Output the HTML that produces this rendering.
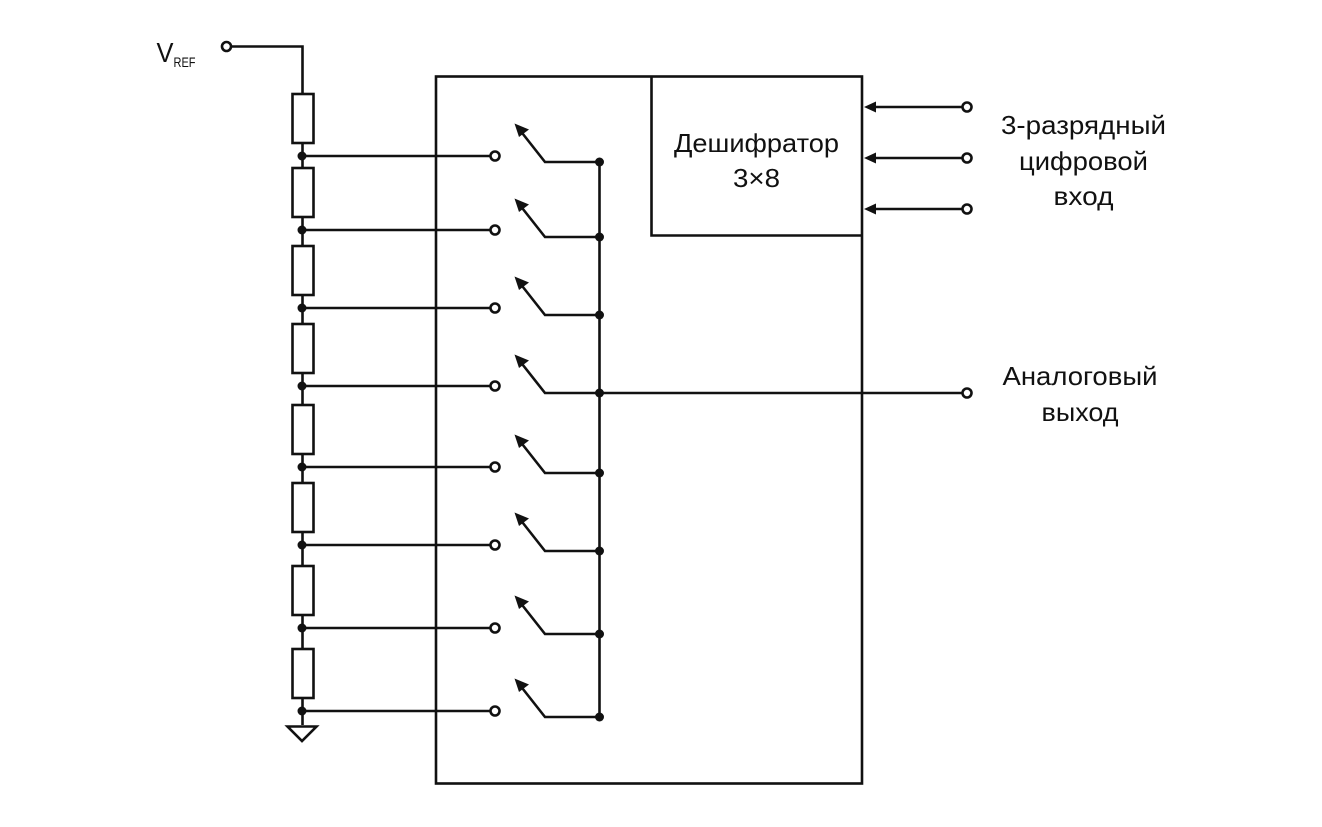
<!DOCTYPE html>
<html><head><meta charset="utf-8"><style>
html,body{margin:0;padding:0;background:#fff}
svg{display:block}
text{font-family:"Liberation Sans",sans-serif;fill:#111;text-anchor:middle}
.t{font-size:26px}
</style></head><body>
<svg width="1322" height="827" viewBox="0 0 1322 827" xmlns="http://www.w3.org/2000/svg">
<g fill="none" stroke="#111" stroke-width="2.6">
<rect x="436" y="76.500" width="426" height="707"/>
<path d="M651.500 76.500V235.500H862"/>
<path d="M231 46.500H302.500V725"/>
<path d="M599.500 162V717"/>
<path d="M599 393H962"/>
<g fill="#fff">
<rect x="292.500" y="94" width="21" height="49"/>
<rect x="292.500" y="168" width="21" height="49"/>
<rect x="292.500" y="246" width="21" height="49"/>
<rect x="292.500" y="324" width="21" height="49"/>
<rect x="292.500" y="405" width="21" height="49"/>
<rect x="292.500" y="483" width="21" height="49"/>
<rect x="292.500" y="566" width="21" height="49"/>
<rect x="292.500" y="649" width="21" height="49"/>
<path d="M287.500 726.500H316.500L302 741Z"/>
</g>
<path d="M302 156H490M302 230H490M302 308H490M302 386H490M302 467H490M302 545H490M302 628H490M302 711H490"/>
<path d="M599 162H545L519 129"/>
<path d="M599 237H545L519 204"/>
<path d="M599 315H545L519 282"/>
<path d="M599 393H545L519 360"/>
<path d="M599 473H545L519 440"/>
<path d="M599 551H545L519 518"/>
<path d="M599 634H545L519 601"/>
<path d="M599 717H545L519 684"/>
<path d="M870 107H962M870 158H962M870 209H962"/>
<g fill="#fff">
<circle cx="226.500" cy="46.500" r="4.500"/>
<circle cx="495" cy="156" r="4.500"/><circle cx="495" cy="230" r="4.500"/>
<circle cx="495" cy="308" r="4.500"/><circle cx="495" cy="386" r="4.500"/>
<circle cx="495" cy="467" r="4.500"/><circle cx="495" cy="545" r="4.500"/>
<circle cx="495" cy="628" r="4.500"/><circle cx="495" cy="711" r="4.500"/>
<circle cx="967" cy="107" r="4.500"/><circle cx="967" cy="158" r="4.500"/>
<circle cx="967" cy="209" r="4.500"/><circle cx="967" cy="393" r="4.500"/>
</g>
</g>
<g fill="#111">
<circle cx="302" cy="156" r="4.500"/><circle cx="302" cy="230" r="4.500"/>
<circle cx="302" cy="308" r="4.500"/><circle cx="302" cy="386" r="4.500"/>
<circle cx="302" cy="467" r="4.500"/><circle cx="302" cy="545" r="4.500"/>
<circle cx="302" cy="628" r="4.500"/><circle cx="302" cy="711" r="4.500"/>
<circle cx="599.500" cy="162" r="4.500"/><circle cx="599.500" cy="237" r="4.500"/>
<circle cx="599.500" cy="315" r="4.500"/><circle cx="599.500" cy="393" r="4.500"/>
<circle cx="599.500" cy="473" r="4.500"/><circle cx="599.500" cy="551" r="4.500"/>
<circle cx="599.500" cy="634" r="4.500"/><circle cx="599.500" cy="717" r="4.500"/>
<path d="M514.500 123.500L529 129.500L519 137Z"/>
<path d="M514.500 198.500L529 204.500L519 212Z"/>
<path d="M514.500 276.500L529 282.500L519 290Z"/>
<path d="M514.500 354.500L529 360.500L519 368Z"/>
<path d="M514.500 434.500L529 440.500L519 448Z"/>
<path d="M514.500 512.500L529 518.500L519 526Z"/>
<path d="M514.500 595.500L529 601.500L519 609Z"/>
<path d="M514.500 678.500L529 684.500L519 692Z"/>
<path d="M864 107L876 101.500V112.500Z"/>
<path d="M864 158L876 152.500V163.500Z"/>
<path d="M864 209L876 203.500V214.500Z"/>
</g>
<text x="165" y="62" style="font-size:28px" textLength="17" lengthAdjust="spacingAndGlyphs">V</text>
<text x="184.500" y="67" style="font-size:14px" textLength="22" lengthAdjust="spacingAndGlyphs">REF</text>
<text class="t" x="756.500" y="152" textLength="165" lengthAdjust="spacingAndGlyphs">Дешифратор</text>
<text class="t" x="756.500" y="187" textLength="47" lengthAdjust="spacingAndGlyphs">3×8</text>
<text class="t" x="1083.500" y="134" textLength="165" lengthAdjust="spacingAndGlyphs">3-разрядный</text>
<text class="t" x="1083.500" y="170" textLength="129" lengthAdjust="spacingAndGlyphs">цифровой</text>
<text class="t" x="1083.500" y="205" textLength="60" lengthAdjust="spacingAndGlyphs">вход</text>
<text class="t" x="1080" y="385" textLength="155" lengthAdjust="spacingAndGlyphs">Аналоговый</text>
<text class="t" x="1080" y="421" textLength="77" lengthAdjust="spacingAndGlyphs">выход</text>
</svg>
</body></html>
